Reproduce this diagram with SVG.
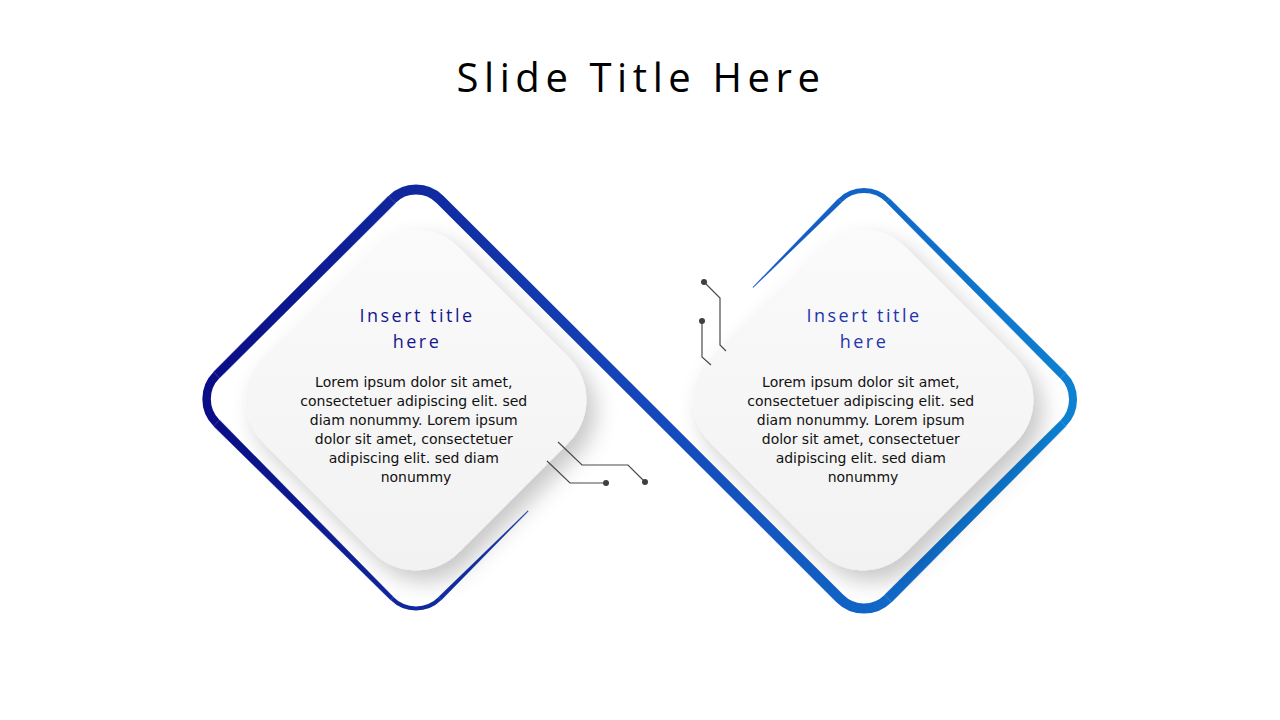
<svg xmlns="http://www.w3.org/2000/svg" width="1280" height="720" viewBox="0 0 1280 720">
  <defs>
    <linearGradient id="ring" gradientUnits="userSpaceOnUse" x1="200" y1="0" x2="1080" y2="0">
      <stop offset="0" stop-color="#0a0c84"/>
      <stop offset="0.5" stop-color="#1646bb"/>
      <stop offset="1" stop-color="#0c82d2"/>
    </linearGradient>
    <linearGradient id="card" x1="0" y1="0" x2="1" y2="1">
      <stop offset="0" stop-color="#fbfbfb"/>
      <stop offset="1" stop-color="#f1f1f1"/>
    </linearGradient>
    <filter id="sh" x="-30%" y="-30%" width="170%" height="170%">
      <feDropShadow dx="9" dy="11" stdDeviation="11" flood-color="#000" flood-opacity="0.22"/>
    </filter>
  </defs>
  <style>
    .title { font-family: "Open Sans", "Noto Sans", sans-serif; font-size: 40px; fill: #000; letter-spacing: 5.6px; }
    .ctitle { font-family: "Open Sans", "Noto Sans", sans-serif; font-size: 18px; letter-spacing: 2.5px; }
    .body { font-family: "DejaVu Sans", sans-serif; font-size: 14px; fill: #111; }
    .seg { fill: url(#ring); stroke: url(#ring); stroke-width: 0.4; stroke-linejoin: round; }
    .arc { fill: none; stroke: url(#ring); }
    .wire { fill: none; stroke: #4a4a4a; stroke-width: 1.2; }
    .dot { fill: #404040; }
  </style>

  <rect width="1280" height="720" fill="#ffffff"/>

  <text class="title" x="641" y="92" text-anchor="middle">Slide Title Here</text>

  <g id="outline">
    <polygon class="seg" points="441.41,599.91 528.21,511.21 527.79,510.79 438.59,597.09"/>
    <path class="arc" d="M440,598.5 A34,34 0 0 1 392,598.5" stroke-width="4"/>
    <polygon class="seg" points="393.41,597.09 219.51,419.99 213.49,426.01 390.59,599.91"/>
    <path class="arc" d="M216.5,423 A34,34 0 0 1 216.5,375" stroke-width="8.5"/>
    <polygon class="seg" points="219.51,378.01 395.54,203.04 388.46,195.96 213.49,371.99"/>
    <path class="arc" d="M392,199.5 A34,34 0 0 1 440,199.5 L840,598.6 A34,34 0 0 0 888,598.6" stroke-width="10"/>
    <polygon class="seg" points="891.54,602.14 1065.93,426.33 1060.27,420.67 884.46,595.06"/>
    <path class="arc" d="M1063.1,423.5 A34,34 0 0 0 1063.1,375.5" stroke-width="8"/>
    <polygon class="seg" points="1065.93,372.67 889.77,198.63 886.23,202.17 1060.27,378.33"/>
    <path class="arc" d="M888,200.4 A34,34 0 0 0 840,200.4" stroke-width="5"/>
    <polygon class="seg" points="838.23,198.63 752.79,287.19 753.21,287.61 841.77,202.17"/>
  </g>

  <g id="card-left">
    <g filter="url(#sh)">
      <rect x="-138" y="-138" width="276" height="276" rx="60" fill="url(#card)" transform="translate(416,400) rotate(45)"/>
    </g>
    <text class="ctitle" text-anchor="middle" fill="#16168f"><tspan x="417" y="322">Insert title</tspan><tspan x="417" y="348">here</tspan></text>
    <text class="body" text-anchor="middle">
      <tspan x="416" y="387">Lorem ipsum dolor sit amet,</tspan>
      <tspan x="416" y="406">consectetuer adipiscing elit. sed</tspan>
      <tspan x="416" y="425">diam nonummy. Lorem ipsum</tspan>
      <tspan x="416" y="444">dolor sit amet, consectetuer</tspan>
      <tspan x="416" y="463">adipiscing elit. sed diam</tspan>
      <tspan x="416" y="482">nonummy</tspan>
    </text>
  </g>

  <g id="card-right">
    <g filter="url(#sh)">
      <rect x="-138" y="-138" width="276" height="276" rx="60" fill="url(#card)" transform="translate(863,400) rotate(45)"/>
    </g>
    <text class="ctitle" text-anchor="middle" fill="#2335ad"><tspan x="864" y="322">Insert title</tspan><tspan x="864" y="348">here</tspan></text>
    <text class="body" text-anchor="middle">
      <tspan x="863" y="387">Lorem ipsum dolor sit amet,</tspan>
      <tspan x="863" y="406">consectetuer adipiscing elit. sed</tspan>
      <tspan x="863" y="425">diam nonummy. Lorem ipsum</tspan>
      <tspan x="863" y="444">dolor sit amet, consectetuer</tspan>
      <tspan x="863" y="463">adipiscing elit. sed diam</tspan>
      <tspan x="863" y="482">nonummy</tspan>
    </text>
  </g>

  <g id="connectors">
    <polyline class="wire" points="558,442 582,465 628,465 645,482"/>
    <circle class="dot" cx="645" cy="482" r="3"/>
    <polyline class="wire" points="547,461 570,483 606,483"/>
    <circle class="dot" cx="606" cy="483" r="3"/>
    <polyline class="wire" points="704,282 720,298 720,345 726,351"/>
    <circle class="dot" cx="704" cy="282" r="3"/>
    <polyline class="wire" points="702,321 702,357 711,365"/>
    <circle class="dot" cx="702" cy="321" r="3"/>
  </g>
</svg>
